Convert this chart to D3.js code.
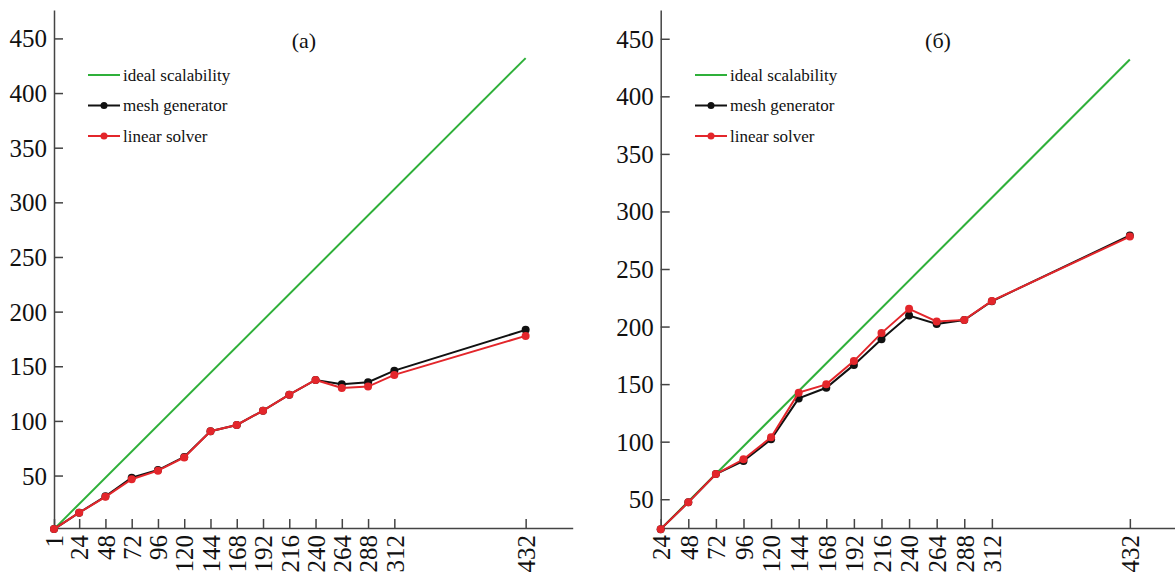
<!doctype html>
<html>
<head>
<meta charset="utf-8">
<style>
  body { margin: 0; background: #fff; }
  svg { display: block; }
  svg text { font-family: "Liberation Serif", "Times New Roman", Times, "DejaVu Serif", serif; }
  .axis path, .axis line { stroke: #444; stroke-width: 1.5; }
  .axis text { fill: #111; font-size: 25px; }
</style>
</head>
<body>
<svg id="chart"></svg>
<script src="https://d3js.org/d3.v7.min.js"></script>
<script>
// panel (a)
const xA = [1, 24, 48, 72, 96, 120, 144, 168, 192, 216, 240, 264, 288, 312, 432];
const idealA = [1, 432];
const meshA = [1, 16, 31, 48, 55, 67, 90.6, 96.3, 109.4, 124, 137.5, 133.6, 135.4, 146, 183.3];
const solverA = [1, 16, 30.5, 46.6, 54.5, 66.5, 90.6, 96.3, 109.4, 124, 137.5, 130.2, 131.4, 142.1, 177.8];

// panel (б)
const xB = [24, 48, 72, 96, 120, 144, 168, 192, 216, 240, 264, 288, 312, 432];
const idealB = [24, 432];
const meshB = [24, 47.3, 71.9, 83.2, 102, 137.6, 146.8, 166.7, 189, 209.6, 202.3, 205.6, 222, 279.2];
const solverB = [24, 47.3, 71.9, 84.7, 103.8, 142.6, 149.8, 170, 194.3, 215.4, 204.5, 205.8, 222.3, 278.2];

const yTicks = [50, 100, 150, 200, 250, 300, 350, 400, 450];
const legendNames = ["ideal scalability", "mesh generator", "linear solver"];
const colors = { ideal: "#2fb03a", mesh: "#111111", solver: "#e3262b" };
const serif = "'Liberation Serif', 'Times New Roman', Times, 'DejaVu Serif', serif";

const width = 1175, height = 577;
const svg = d3.select("#chart").attr("width", width).attr("height", height);

function drawPanel(opt) {
  const x = d3.scaleLinear().domain(opt.xDomain).range(opt.xRange);
  const y = d3.scaleLinear().domain(opt.yDomain).range([528, 10]);
  const g = svg.append("g");

  // axes
  g.append("g")
    .attr("class", "axis")
    .attr("transform", "translate(0,528)")
    .call(d3.axisBottom(x).tickValues(opt.xs).tickSizeInner(-9).tickSizeOuter(0).tickPadding(0))
    .attr("font-family", serif)
    .call(a => a.selectAll(".tick text")
      .attr("transform", "translate(0,7) rotate(-90)")
      .attr("text-anchor", "end")
      .attr("x", 0).attr("y", 0).attr("dy", "0.35em"));

  g.append("g")
    .attr("class", "axis")
    .attr("transform", "translate(" + opt.xRange[0] + ",0)")
    .call(d3.axisLeft(y).tickValues(yTicks).tickSizeInner(-9).tickSizeOuter(0).tickPadding(5))
    .attr("font-family", serif)
    .call(a => a.selectAll(".tick text").attr("x", -7).attr("dy", "0.34em"));

  // ideal line
  g.append("line")
    .attr("x1", x(opt.ideal[0])).attr("y1", y(opt.ideal[0]))
    .attr("x2", x(opt.ideal[1])).attr("y2", y(opt.ideal[1]))
    .attr("stroke", colors.ideal).attr("stroke-width", 2);

  const line = d3.line().x((d, i) => x(opt.xs[i])).y(d => y(d));
  [[opt.mesh, colors.mesh], [opt.solver, colors.solver]].forEach(([vals, c]) => {
    g.append("path").datum(vals)
      .attr("d", line).attr("fill", "none")
      .attr("stroke", c).attr("stroke-width", 2);
    g.append("g").selectAll("circle").data(vals).join("circle")
      .attr("cx", (d, i) => x(opt.xs[i])).attr("cy", d => y(d))
      .attr("r", 4).attr("fill", c);
  });

  // legend
  const lg = g.append("g").attr("transform", "translate(" + opt.legendX + ",0)");
  const rows = [colors.ideal, colors.mesh, colors.solver];
  legendNames.forEach((name, i) => {
    const ly = 75 + i * 30.5;
    lg.append("line").attr("x1", 0).attr("x2", 32).attr("y1", ly).attr("y2", ly)
      .attr("stroke", rows[i]).attr("stroke-width", 2);
    if (i > 0) lg.append("circle").attr("cx", 16).attr("cy", ly).attr("r", 3.5).attr("fill", rows[i]);
    lg.append("text").attr("x", 35).attr("y", ly).attr("dy", "0.33em")
      .attr("font-size", 17).attr("fill", "#111").text(name);
  });

  g.append("text").attr("x", opt.titleX).attr("y", 48)
    .attr("text-anchor", "middle").attr("font-size", 22).attr("fill", "#111")
    .text(opt.title);
}

drawPanel({
  xs: xA, ideal: idealA, mesh: meshA, solver: solverA,
  xDomain: [1, 475], xRange: [54, 572.7], yDomain: [2, 476],
  legendX: 88, titleX: 304, title: "(a)"
});

drawPanel({
  xs: xB, ideal: idealB, mesh: meshB, solver: solverB,
  xDomain: [24, 475], xRange: [660.7, 1179.3], yDomain: [25, 475],
  legendX: 695, titleX: 938, title: "(б)"
});
</script>
</body>
</html>
